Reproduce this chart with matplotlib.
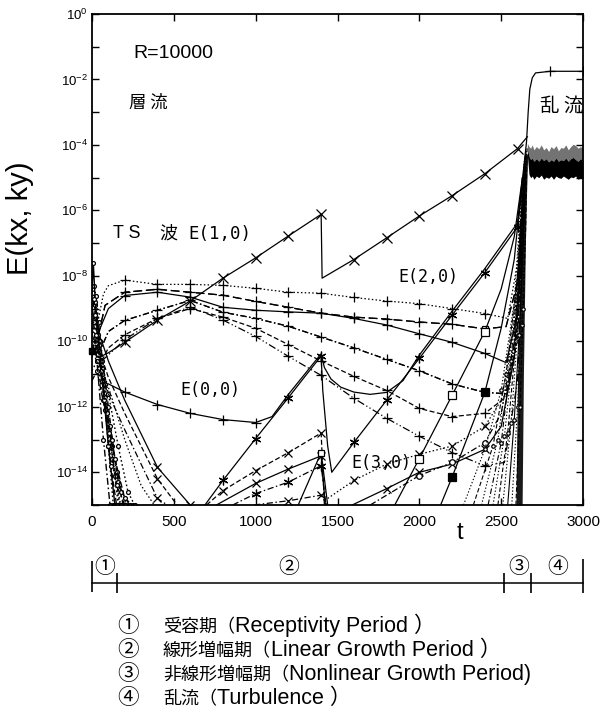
import matplotlib
matplotlib.use("Agg")
import matplotlib.pyplot as plt
from matplotlib.ticker import FixedLocator, FixedFormatter, NullLocator

plt.rcParams['font.family'] = ['Noto Sans CJK JP', 'DejaVu Sans']
plt.rcParams['mathtext.fontset'] = 'custom'
plt.rcParams['mathtext.rm'] = 'Liberation Sans'
plt.rcParams['mathtext.it'] = 'Liberation Sans:italic'
plt.rcParams['mathtext.bf'] = 'Liberation Sans:bold'

# ------------------------------------------------------------------ data
# all energies given as log10 E(kx,ky)
e10_t = [0, 40, 100, 200, 400, 600, 800, 1000, 1200, 1400, 1406, 1600, 1800, 2000, 2200, 2400, 2600, 2660]
e10_lE = [-10.3, -10.5, -10.35, -10.03, -9.35, -8.77, -8.07, -7.45, -6.78, -6.12, -8.07, -7.5, -6.84, -6.17, -5.55, -4.88, -4.11, -3.75]

e00_t = [100, 200, 400, 600, 800, 1000, 1100, 1200, 1300, 1400, 1420, 1460, 1520, 1600, 1700, 1800, 1900, 2000, 2200, 2400, 2600, 2640, 2655, 2665, 2675, 2690, 2710, 2800, 3000]
e00_lE = [-11.3, -11.55, -11.93, -12.2, -12.39, -12.48, -12.3, -11.62, -11.0, -10.38, -10.8, -11.15, -11.4, -11.55, -11.62, -11.56, -11.2, -10.42, -9.08, -7.78, -6.38, -4.6, -3.9, -3.0, -2.3, -1.95, -1.8, -1.75, -1.75]

e20_t = [690, 800, 1000, 1200, 1300, 1400, 1410, 1440, 1465, 1600, 1800, 2000, 2200, 2400, 2600, 2630, 2650]
e20_lE = [-15.0, -14.25, -12.97, -11.72, -11.08, -10.45, -11.5, -13.2, -14.0, -13.09, -11.8, -10.52, -9.2, -7.9, -6.5, -5.3, -4.3]

e30_t = [1590, 1800, 2000, 2200, 2400, 2500, 2580, 2630]
e30_lE = [-15.0, -14.5, -14.0, -13.75, -13.3, -12.6, -10.5, -6.0]

p1_t = [40, 70, 100, 200, 400, 600, 800, 1000, 1200, 1400, 1600, 1800, 2000, 2200, 2400, 2540, 2600, 2640]
p1_lE = [-9.3, -8.55, -8.3, -8.13, -8.26, -8.26, -8.29, -8.38, -8.5, -8.53, -8.66, -8.77, -8.85, -9.0, -9.15, -9.3, -7.6, -4.7]
p2_t = [40, 80, 200, 400, 600, 800, 1000, 1200, 1400, 1600, 1800, 2000, 2200, 2400, 2530, 2600, 2640]
p2_lE = [-9.8, -8.9, -8.5, -8.41, -8.5, -8.59, -8.78, -8.96, -9.14, -9.26, -9.32, -9.41, -9.48, -9.62, -9.55, -8.2, -4.8]
p3_t = [50, 100, 200, 400, 600, 800, 1000, 1200, 1400, 1600, 1800, 2000, 2200, 2400, 2530, 2600, 2640]
p3_lE = [-9.6, -9.0, -8.6, -8.5, -8.65, -8.96, -9.05, -9.1, -9.14, -9.3, -9.5, -9.77, -10.03, -10.37, -10.65, -9.2, -5.0]
p4_t = [40, 100, 200, 400, 600, 800, 1000, 1200, 1400, 1600, 1800, 2000, 2200, 2400, 2530, 2600, 2645]
p4_lE = [-10.4, -9.7, -9.36, -9.05, -8.75, -9.11, -9.3, -9.54, -9.87, -10.2, -10.55, -10.9, -11.3, -11.56, -11.6, -9.6, -5.0]
p5_t = [40, 100, 200, 400, 600, 800, 1000, 1200, 1400, 1600, 1800, 2000, 2200, 2400, 2530, 2600, 2645]
p5_lE = [-10.8, -10.2, -9.8, -9.3, -9.0, -9.26, -9.6, -10.1, -10.6, -11.07, -11.5, -12.05, -12.3, -12.2, -11.7, -9.9, -5.0]
p6_t = [60, 200, 400, 600, 800, 1000, 1200, 1400, 1600, 1800, 2000, 2200, 2400, 2520, 2600, 2645]
p6_lE = [-10.6, -9.95, -9.3, -8.95, -9.35, -9.85, -10.46, -11.04, -11.74, -12.35, -12.9, -13.4, -13.8, -13.7, -11.2, -5.5]

r2_t = [700, 800, 1000, 1200, 1400, 1420]
r2_lE = [-15.0, -14.56, -13.95, -13.4, -12.8, -15.0]
r3_t = [760, 1000, 1200, 1400, 1425]
r3_lE = [-15.0, -14.34, -13.9, -13.5, -15.0]
r4_t = [860, 1000, 1200, 1400, 1430]
r4_lE = [-15.0, -14.65, -14.3, -13.8, -15.0]
r5_t = [990, 1200, 1400, 1435]
r5_lE = [-15.0, -14.87, -14.7, -15.0]
r6_t = [1260, 1400, 1440]
r6_lE = [-15.0, -13.4, -15.0]
r7_t = [1440, 1600, 1800, 2000, 2200, 2400, 2500, 2580, 2630]
r7_lE = [-14.8, -14.25, -13.75, -13.45, -13.2, -12.6, -11.8, -9.5, -5.5]

d1_t = [20, 60, 100, 200, 400, 600]
d1_lE = [-9.6, -10.0, -10.6, -11.8, -13.85, -15.0]
d2_t = [20, 60, 100, 200, 400, 520]
d2_lE = [-10.1, -10.5, -11.1, -12.2, -14.2, -15.0]
d3_t = [20, 60, 100, 200, 400, 460]
d3_lE = [-10.5, -11.0, -11.6, -12.7, -14.8, -15.0]
d4_t = [10, 60, 120, 200, 300, 380]
d4_lE = [-10.0, -10.8, -11.7, -13.0, -14.4, -15.0]

q1_t = [1850, 2000, 2200, 2400, 2500, 2580, 2630]
q1_lE = [-15.0, -13.58, -11.65, -9.7, -8.4, -6.8, -5.0]
q2_t = [2130, 2200, 2400, 2500, 2580, 2630]
q2_lE = [-15.0, -14.15, -11.56, -9.6, -7.5, -5.0]
q4_t = [1700, 2000, 2200, 2400, 2500, 2580, 2630]
q4_lE = [-15.0, -14.1, -13.7, -13.1, -12.2, -10.0, -6.0]

# receptivity-period transients
rec1_t = [0, 15, 40, 80, 120, 160]
rec1_lE = [-9.0, -8.3, -9.4, -11.3, -13.2, -15.0]
rec2_t = [0, 20, 50, 100, 150, 190]
rec2_lE = [-9.5, -8.9, -10.0, -12.0, -14.0, -15.0]
rec3_t = [0, 20, 60, 110, 160, 210]
rec3_lE = [-10.0, -9.3, -10.8, -12.6, -14.3, -15.0]
rec4_t = [0, 20, 60, 120, 180, 230]
rec4_lE = [-10.5, -9.9, -11.2, -13.0, -14.6, -15.0]
rec5_t = [0, 30, 70, 120, 170]
rec5_lE = [-10.9, -10.6, -11.8, -13.6, -15.0]
rec6_t = [0, 30, 80, 140, 200, 250]
rec6_lE = [-11.2, -10.9, -12.1, -13.6, -14.8, -15.0]
rec7_t = [0, 25, 60, 100, 130]
rec7_lE = [-8.8, -8.6, -10.6, -13.2, -15.0]
rec8_t = [0, 10, 30, 70, 110]
rec8_lE = [-9.8, -9.4, -10.6, -13.0, -15.0]
rec9_t = [0, 40, 100, 160, 220, 260]
rec9_lE = [-10.2, -10.1, -11.6, -13.2, -14.6, -15.0]
rec10_t = [0, 8, 20, 60, 100, 140]
rec10_lE = [-8.5, -7.6, -8.8, -11.0, -13.2, -15.0]
rec11_t = [0, 12, 35, 75, 115, 150]
rec11_lE = [-9.2, -8.7, -9.8, -11.8, -13.8, -15.0]
rec12_t = [0, 18, 45, 90, 140, 175]
rec12_lE = [-9.7, -9.2, -10.3, -12.2, -14.1, -15.0]
rec13_t = [0, 25, 55, 105, 150, 200]
rec13_lE = [-10.3, -9.8, -10.9, -12.8, -14.4, -15.0]

# steep nonlinear-growth lines
s1_t = [2270, 2400, 2500, 2580, 2630]
s1_lE = [-15.0, -13.3, -11.5, -8.8, -5.0]
s2_t = [2330, 2450, 2530, 2600, 2640]
s2_lE = [-15.0, -13.2, -11.0, -8.0, -4.6]
s3_t = [2380, 2480, 2550, 2610, 2640]
s3_lE = [-15.0, -13.0, -10.5, -7.5, -4.5]
s4_t = [2420, 2500, 2560, 2615, 2645]
s4_lE = [-15.0, -13.1, -10.6, -7.2, -4.4]
s5_t = [2450, 2520, 2575, 2620, 2645]
s5_lE = [-15.0, -12.9, -10.3, -7.0, -4.4]
s6_t = [2480, 2540, 2590, 2625, 2648]
s6_lE = [-15.0, -12.8, -10.0, -7.0, -4.3]
s7_t = [2510, 2560, 2600, 2630, 2650]
s7_lE = [-15.0, -12.5, -9.8, -7.0, -4.3]
s8_t = [2540, 2580, 2610, 2635, 2652]
s8_lE = [-15.0, -12.4, -9.8, -7.0, -4.2]
s9_t = [2565, 2600, 2625, 2645, 2655]
s9_lE = [-15.0, -12.0, -9.5, -6.8, -4.2]
s10_t = [2590, 2615, 2635, 2650, 2658]
s10_lE = [-15.0, -12.0, -9.0, -6.5, -4.1]

# dense core of the nonlinear burst
core_lE = [-15.0, -13.0, -11.0, -9.0, -7.0, -5.5, -4.3]
core_t_left = [2590, 2595, 2600, 2610, 2620, 2635, 2650]
core_t_right = [2628, 2632, 2636, 2642, 2648, 2655, 2662]

# turbulence band
noise_t = [2660, 2670, 2680, 2690, 2700, 2715, 2730, 2745, 2760, 2775, 2790, 2805, 2820, 2835, 2850, 2865, 2880, 2895, 2910, 2925, 2940, 2955, 2970, 2985, 3000]
noise_hi = [-3.95, -4.05, -4.1, -4.0, -4.15, -4.05, -4.12, -4.0, -4.15, -4.08, -4.2, -4.05, -4.12, -4.02, -4.18, -4.08, -4.1, -4.0, -4.15, -4.05, -3.98, -4.02, -4.1, -4.05, -4.12]
noise_mid = [-4.1, -4.35, -4.45, -4.4, -4.5, -4.42, -4.5, -4.4, -4.48, -4.42, -4.52, -4.45, -4.5, -4.4, -4.5, -4.45, -4.48, -4.4, -4.5, -4.42, -4.38, -4.45, -4.5, -4.42, -4.48]
noise_lo = [-4.3, -4.9, -5.0, -4.95, -5.05, -4.95, -5.0, -4.92, -5.05, -4.98, -5.02, -4.95, -5.05, -4.95, -5.0, -5.02, -4.95, -5.0, -5.05, -4.98, -5.0, -4.95, -5.05, -5.0, -5.0]

x_ticks = [0, 500, 1000, 1500, 2000, 2500, 3000]
y_exponents = list(range(-15, 1))

period_bounds = [0, 150, 2520, 2685, 3000]
period_labels = ['①', '②', '③', '④']
period_label_t = [80, 1200, 2605, 2845]

legend_nums = ['①', '②', '③', '④']
legend_jp = ['受容期（', '線形増幅期（', '非線形増幅期（', '乱流（']
legend_en = ['Receptivity Period ）', 'Linear Growth Period ）', 'Nonlinear Growth Period)', 'Turbulence ）']

# ------------------------------------------------------------------ figure
W, H = 612, 718
fig = plt.figure(figsize=(W / 100, H / 100), dpi=100)


def fx(x):
    return x / W


def fy(y):
    return 1 - y / H


ax = fig.add_axes([fx(92), fy(505), (583 - 92) / W, (505 - 14) / H])
ax.set_yscale('log')
ax.set_xlim(0, 3000)
ax.set_ylim(1e-15, 1)

SOLID = '-'
DASH = (0, (4, 2))
LDASH = (0, (7, 3))
DOT = (0, (1.2, 1.8))
DDOT = (0, (5, 2, 1.2, 2))
DDDOT = (0, (6, 2, 1, 2, 1, 2))
AST = (6, 2, 0)


def marks(ts, lo=200, hi=2400, extra=()):
    return [i for i, t in enumerate(ts) if (t % 200 == 0 and lo <= t <= hi) or t in extra]


def draw(ts, lE, ls, marker=None, idx=None, ms=6, mfc='k', lw=0.9):
    ys = [10 ** v for v in lE]
    if marker is None or not idx:
        ax.plot(ts, ys, ls=ls, color='k', lw=lw)
    else:
        ax.plot(ts, ys, ls=ls, color='k', lw=lw, marker=marker, ms=ms,
                mfc=mfc, mec='k', mew=0.9, markevery=idx)


# receptivity band
rec_sets = [(rec1_t, rec1_lE, DOT), (rec2_t, rec2_lE, DASH), (rec3_t, rec3_lE, DOT),
            (rec4_t, rec4_lE, DDOT), (rec5_t, rec5_lE, DOT), (rec6_t, rec6_lE, DASH),
            (rec7_t, rec7_lE, DOT), (rec8_t, rec8_lE, DDOT), (rec9_t, rec9_lE, DOT),
            (rec10_t, rec10_lE, SOLID), (rec11_t, rec11_lE, DASH),
            (rec12_t, rec12_lE, DOT), (rec13_t, rec13_lE, DDOT)]
for ts, lE, ls in rec_sets:
    draw(ts, lE, ls, 'o', list(range(1, len(ts))), ms=2.8, mfc='white', lw=1.0)

draw(d1_t, d1_lE, SOLID, 'x', marks(d1_t, 400, 600), ms=6)
draw(d2_t, d2_lE, DASH, 'x', marks(d2_t, 400, 400), ms=6)
draw(d3_t, d3_lE, DDOT, 'x', marks(d3_t, 400, 400), ms=6)
draw(d4_t, d4_lE, DOT)

# plus-marked slowly varying modes
draw(p1_t, p1_lE, DOT, '+', marks(p1_t), ms=7)
draw(p2_t, p2_lE, LDASH, '+', marks(p2_t, hi=2200), ms=7)
draw(p2_t, p2_lE, LDASH, 's', marks(p2_t, 2400, 2400), ms=5, mfc='white')
draw(p3_t, p3_lE, SOLID, '+', marks(p3_t), ms=7)
draw(p4_t, p4_lE, DDOT, '+', marks(p4_t, hi=2200), ms=7)
draw(p4_t, p4_lE, DDOT, 's', marks(p4_t, 2400, 2400), ms=5)
draw(p5_t, p5_lE, DASH, '+', marks(p5_t), ms=7)
draw(p6_t, p6_lE, DDDOT, '+', marks(p6_t), ms=7)

# first linear phase
draw(r2_t, r2_lE, DASH, 'x', marks(r2_t, 800, 1400), ms=6)
draw(r3_t, r3_lE, SOLID, 'x', marks(r3_t, 1000, 1400), ms=6)
draw(r4_t, r4_lE, DDOT, AST, marks(r4_t, 1000, 1400), ms=7)
draw(r5_t, r5_lE, DDOT, 'x', marks(r5_t, 1200, 1400), ms=6)
draw(r6_t, r6_lE, SOLID, 's', marks(r6_t, 1400, 1400), ms=5, mfc='white')

# second phase
draw(r7_t, r7_lE, DOT, 'x', marks(r7_t, 1600, 2400), ms=6)
draw(e30_t, e30_lE, SOLID, 'x', marks(e30_t, 1800, 2400), ms=6)
draw(q1_t, q1_lE, SOLID, 's', marks(q1_t, 2000, 2400), ms=5.5, mfc='white')
draw(q2_t, q2_lE, SOLID, 's', marks(q2_t, 2200, 2400), ms=5.5)
draw(q4_t, q4_lE, DDOT, 'o', marks(q4_t, 2000, 2400), ms=4, mfc='white')

# steep lines into turbulence
s_sets = [(s1_t, s1_lE, DOT), (s2_t, s2_lE, DASH), (s3_t, s3_lE, DOT), (s4_t, s4_lE, DDOT),
          (s5_t, s5_lE, DOT), (s6_t, s6_lE, DASH), (s7_t, s7_lE, DOT), (s8_t, s8_lE, SOLID),
          (s9_t, s9_lE, DOT), (s10_t, s10_lE, DASH)]
for ts, lE, ls in s_sets:
    draw(ts, lE, ls, 'o', [1, 2], ms=2.5, mfc='white', lw=0.8)

ax.fill_betweenx([10 ** v for v in core_lE], core_t_left, core_t_right,
                 color='0.1', lw=0)

# main labelled modes
draw(e20_t, e20_lE, SOLID, AST, marks(e20_t, 800, 2600), ms=7)
draw(e00_t, e00_lE, SOLID, '+', marks(e00_t, 200, 1000, extra=(2800, 3000)), ms=7)
draw(e10_t, e10_lE, SOLID, 'x', marks(e10_t, 200, 2600), ms=7)
ax.plot([e10_t[0]], [10 ** e10_lE[0]], 's', color='k', ms=5, clip_on=False)

# turbulence band
ax.fill_between(noise_t, [10 ** v for v in noise_hi], [10 ** v for v in noise_mid],
                color='0.45', lw=0)
ax.fill_between(noise_t, [10 ** v for v in noise_mid], [10 ** v for v in noise_lo],
                color='k', lw=0)

# axes styling
ax.yaxis.set_major_locator(FixedLocator([10.0 ** k for k in y_exponents]))
ax.yaxis.set_major_formatter(FixedFormatter(
    ['$10^{%d}$' % k if k % 2 == 0 else '' for k in y_exponents]))
ax.yaxis.set_minor_locator(NullLocator())
ax.set_xticks(x_ticks)
ax.set_xticklabels([str(v) for v in x_ticks])
ax.tick_params(direction='in', top=True, right=True, length=5, width=1.0)
ax.tick_params(axis='y', labelsize=9.5, pad=3)
ax.tick_params(axis='x', labelsize=11, pad=7)
for lab in ax.get_xticklabels():
    lab.set_fontfamily('Liberation Sans')
for sp in ax.spines.values():
    sp.set_linewidth(1.3)

# texts inside / around the axes
fig.text(fx(173), fy(53), 'R=10000', ha='center', va='center', fontsize=14,
         family='Liberation Sans')
fig.text(fx(148), fy(103), '層 流', ha='center', va='center', fontsize=12.5)
fig.text(fx(127), fy(234), 'T S', ha='center', va='center', fontsize=13,
         family='Liberation Sans')
fig.text(fx(168), fy(234), '波', ha='center', va='center', fontsize=13)
fig.text(fx(220), fy(234), 'E(1,0)', ha='center', va='center', fontsize=12.5,
         family='DejaVu Sans Mono')
fig.text(fx(428), fy(277), 'E(2,0)', ha='center', va='center', fontsize=12,
         family='DejaVu Sans Mono')
fig.text(fx(210), fy(390), 'E(0,0)', ha='center', va='center', fontsize=12,
         family='DejaVu Sans Mono')
fig.text(fx(381), fy(463), 'E(3,0)', ha='center', va='center', fontsize=12,
         family='DejaVu Sans Mono')
fig.text(fx(562), fy(106), '乱 流', ha='center', va='center', fontsize=14)
fig.text(fx(20), fy(218), 'E(kx, ky)', ha='center', va='center', fontsize=21,
         rotation=90, family='Liberation Sans')
fig.text(fx(460), fy(533), 't', ha='center', va='center', fontsize=17,
         family='Liberation Sans')

# period bar
axb = fig.add_axes([fx(92), fy(600), (583 - 92) / W, 45 / H])
axb.set_xlim(0, 3000)
axb.set_ylim(600, 555)
axb.axis('off')
axb.plot([period_bounds[0], period_bounds[-1]], [583, 583], color='k', lw=1.1, clip_on=False)
axb.vlines([period_bounds[0]], 561, 592, color='k', lw=1.2, clip_on=False)
axb.vlines([period_bounds[-1]], 559, 593, color='k', lw=1.2, clip_on=False)
axb.vlines(period_bounds[1:-1], 573, 593, color='k', lw=1.2, clip_on=False)
for lab, t in zip(period_labels, period_label_t):
    axb.text(t, 567, lab, ha='center', va='center', fontsize=15)

# legend of periods
fig.canvas.draw()
renderer = fig.canvas.get_renderer()
for i, yc in enumerate([626, 650, 674, 698]):
    fig.text(fx(128), fy(yc), legend_nums[i], ha='center', va='center', fontsize=15.5)
    t1 = fig.text(fx(163), fy(yc + 6), legend_jp[i], ha='left', va='baseline',
                  fontsize=13, family='Noto Sans CJK JP')
    bb = t1.get_window_extent(renderer)
    fig.text(bb.x1 / fig.bbox.width, fy(yc + 6), legend_en[i], ha='left', va='baseline',
             fontsize=15.5, family=['Liberation Sans', 'Noto Sans CJK JP'])

fig.savefig('out.png', dpi=100)
